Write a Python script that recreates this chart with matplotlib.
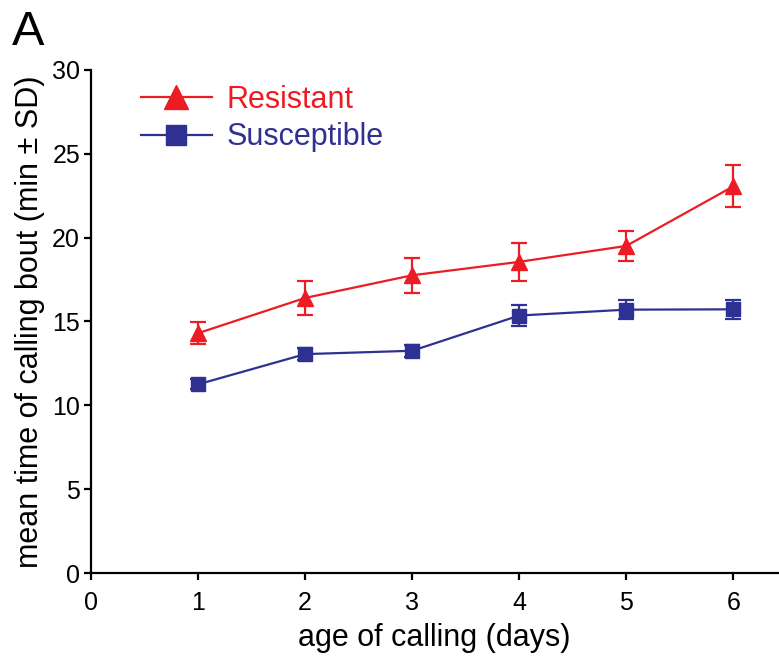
import matplotlib
matplotlib.use("Agg")
import matplotlib.pyplot as plt
from matplotlib.lines import Line2D

plt.rcParams['font.family'] = ['Liberation Sans', 'DejaVu Sans']

RED = "#ED1C24"
BLUE = "#2E3192"

days = [1, 2, 3, 4, 5, 6]
resistant_mean = [14.3, 16.4, 17.75, 18.55, 19.5, 23.05]
resistant_sd = [0.65, 1.0, 1.05, 1.15, 0.9, 1.25]
susceptible_mean = [11.25, 13.05, 13.25, 15.35, 15.7, 15.72]
susceptible_sd = [0.3, 0.35, 0.35, 0.65, 0.58, 0.56]

fig = plt.figure(figsize=(7.79, 6.71), dpi=100)
ax = fig.add_axes([0.117, 0.146, 0.882, 0.750])

ax.errorbar(days, resistant_mean, yerr=resistant_sd, color=RED, marker="^",
            markersize=12, linewidth=1.6, capsize=6, capthick=1.6, elinewidth=1.6)
ax.errorbar(days, susceptible_mean, yerr=susceptible_sd, color=BLUE, marker="s",
            markersize=10, linewidth=1.6, capsize=6, capthick=1.6, elinewidth=1.6)

ax.set_xlim(0, 6.42)
ax.set_ylim(0, 30)
ax.set_xticks(range(0, 7))
ax.set_yticks(range(0, 31, 5))
for s in ["top", "right"]:
    ax.spines[s].set_visible(False)
for s in ["left", "bottom"]:
    ax.spines[s].set_linewidth(1.6)
ax.tick_params(axis="both", direction="out", length=5, width=1.6, labelsize=18)
ax.tick_params(axis="x", pad=8)
ax.tick_params(axis="y", pad=3)

ax.set_xlabel("age of calling (days)", fontsize=22, labelpad=6)
ax.set_ylabel("mean time of calling bout (min \u00b1 SD)", fontsize=22, labelpad=5)

handles = [
    Line2D([], [], color=RED, marker="^", markersize=17, linewidth=1.6),
    Line2D([], [], color=BLUE, marker="s", markersize=15, linewidth=1.6),
]
leg = ax.legend(handles, ["Resistant", "Susceptible"], loc="upper left",
                bbox_to_anchor=(0.033, 1.025), frameon=False, fontsize=22,
                handlelength=2.3, handletextpad=0.5, labelspacing=0.25)
leg.get_texts()[0].set_color(RED)
leg.get_texts()[1].set_color(BLUE)

fig.text(0.0154, 0.933, "A", fontsize=35, va="baseline")

fig.savefig("out.png", dpi=100)
